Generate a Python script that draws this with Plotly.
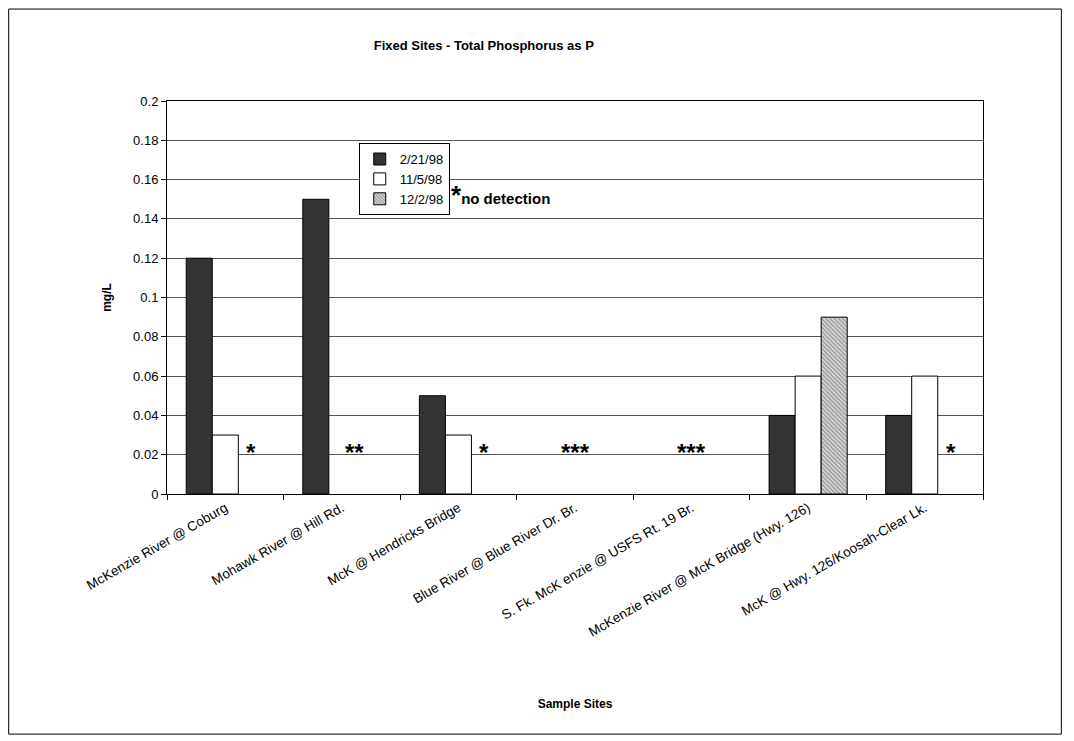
import plotly.graph_objects as go

sites = ["McKenzie River @ Coburg", "Mohawk River @ Hill Rd.", "McK @ Hendricks Bridge",
         "Blue River @ Blue River Dr. Br.", "S. Fk. McK enzie @ USFS Rt. 19 Br.",
         "McKenzie River @ McK Bridge (Hwy. 126)", "McK @ Hwy. 126/Koosah-Clear Lk."]
feb98 = [0.12, 0.15, 0.05, None, None, 0.04, 0.04]
nov98 = [0.03, None, 0.03, None, None, 0.06, 0.06]
dec98 = [None, None, None, None, None, 0.09, None]
series_names = ["2/21/98", "11/5/98", "12/2/98"]

fig = go.Figure()
fig.add_trace(go.Bar(x=sites, y=feb98, name=series_names[0],
                     marker=dict(color="#333333", line=dict(color="black", width=1))))
fig.add_trace(go.Bar(x=sites, y=nov98, name=series_names[1],
                     marker=dict(color="white", line=dict(color="black", width=1))))
fig.add_trace(go.Bar(x=sites, y=dec98, name=series_names[2],
                     marker=dict(color="#dddddd", line=dict(color="black", width=1),
                                 pattern=dict(shape="\\", fgcolor="#555555", size=3, solidity=0.5))))

# asterisks mark "no detection", one per missing bar, centred on the missing bars
shifts = [-26, 0, 26]
annotations = []
for i in range(len(sites)):
    missing = [s for s, vals in enumerate([feb98, nov98, dec98]) if vals[i] is None]
    if missing:
        xs = sum(shifts[s] for s in missing) / len(missing)
        annotations.append(dict(x=sites[i], y=0.02, yshift=2, text="<b>" + "*" * len(missing) + "</b>",
                                showarrow=False, xshift=xs, font=dict(size=24, color="black")))
annotations.append(dict(xref="paper", yref="paper", x=0.345, y=0.76, xanchor="left", yanchor="middle",
                        text="<b><span style='font-size:26px'>*</span>no detection</b>",
                        showarrow=False, font=dict(size=15, color="black")))

fig.update_layout(
    width=1074, height=741,
    title=dict(text="<b>Fixed Sites - Total Phosphorus as P</b>", x=0.443, xanchor="center",
               y=0.949, yanchor="middle", font=dict(size=13, color="black")),
    font=dict(family="Arial", color="black", size=12),
    paper_bgcolor="white", plot_bgcolor="white",
    margin=dict(l=159, r=99, t=93, b=255),
    bargap=0.33, bargroupgap=0,
    xaxis=dict(title=dict(text="<b>Sample Sites</b>", font=dict(size=12), standoff=60),
               tickangle=-30, showline=True, linecolor="black", mirror=True, tickson="boundaries",
               ticks="outside", tickcolor="black", ticklen=5, tickfont=dict(size=13.5)),
    yaxis=dict(title=dict(text="<b>mg/L</b>", font=dict(size=12), standoff=18),
               range=[0, 0.2], dtick=0.02, tickformat="~g", showgrid=True, gridcolor="#555555",
               showline=True, linecolor="black", mirror=True, ticks="outside", tickcolor="black",
               ticklen=5, zeroline=False, tickfont=dict(size=13)),
    legend=dict(x=0.235, y=0.893, xanchor="left", yanchor="top", bordercolor="black", borderwidth=1,
                font=dict(size=13), bgcolor="white", tracegroupgap=0, itemwidth=30),
    annotations=annotations,
    shapes=[dict(type="rect", xref="paper", yref="paper", x0=-0.194, x1=1.096, y0=-0.611, y1=1.234,
                 line=dict(color="black", width=1))],
)
fig.write_html("out.html")
